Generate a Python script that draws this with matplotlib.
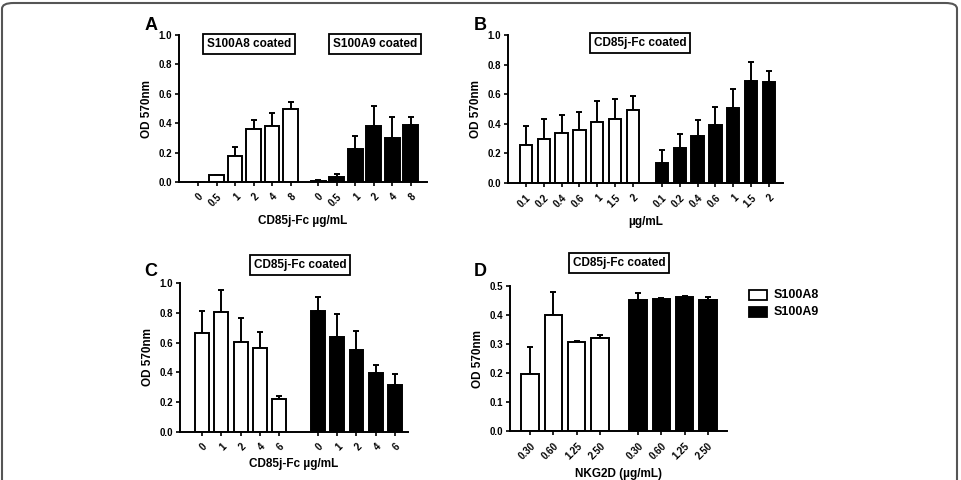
import numpy as np
import matplotlib.pyplot as plt
from matplotlib.patches import FancyBboxPatch, Rectangle

plt.rcParams['font.family'] = ['Liberation Sans', 'DejaVu Sans']
plt.rcParams['font.weight'] = 'bold'

# Painel A - placas revestidas com S100A8 / S100A9
a_labels = ['0', '0.5', '1', '2', '4', '8']
a_s100a8 = [0.0, 0.045, 0.18, 0.36, 0.38, 0.495]
a_s100a8_err = [0.0, 0.005, 0.055, 0.06, 0.09, 0.05]
a_s100a9 = [0.01, 0.032, 0.224, 0.38, 0.30, 0.39]
a_s100a9_err = [0.004, 0.022, 0.086, 0.14, 0.14, 0.05]

# Painel B - CD85j-Fc coated
b_labels = ['0.1', '0.2', '0.4', '0.6', '1', '1.5', '2']
b_s100a8 = [0.257, 0.30, 0.335, 0.36, 0.41, 0.43, 0.49]
b_s100a8_err = [0.13, 0.13, 0.125, 0.12, 0.146, 0.14, 0.10]
b_s100a9 = [0.137, 0.235, 0.32, 0.39, 0.51, 0.69, 0.685]
b_s100a9_err = [0.083, 0.095, 0.105, 0.125, 0.125, 0.125, 0.072]

# Painel C
c_labels = ['0', '1', '2', '4', '6']
c_s100a8 = [0.664, 0.805, 0.604, 0.566, 0.224]
c_s100a8_err = [0.148, 0.145, 0.163, 0.105, 0.02]
c_s100a9 = [0.812, 0.638, 0.553, 0.396, 0.313]
c_s100a9_err = [0.094, 0.156, 0.123, 0.056, 0.077]

# Painel D - NKG2D
d_labels = ['0.30', '0.60', '1.25', '2.50']
d_s100a8 = [0.197, 0.40, 0.307, 0.322]
d_s100a8_err = [0.093, 0.078, 0.004, 0.008]
d_s100a9 = [0.451, 0.455, 0.462, 0.453]
d_s100a9_err = [0.026, 0.005, 0.002, 0.009]

W, H = 961, 480
fig = plt.figure(figsize=(W / 100, H / 100), dpi=100)


def px_axes(x0, x1, y0, y1):
    # x0..x1, y0 (topo) .. y1 (base) em pixels
    return fig.add_axes([x0 / W, 1 - y1 / H, (x1 - x0) / W, (y1 - y0) / H])


def painel(ax, labels, s8, s8e, s9, s9e, gap, width, xlim, ylim, yticks,
           yticklabels, xlabel, xpad):
    n = len(labels)
    x1 = np.arange(n)
    x2 = np.arange(n) + n + gap
    for x, v, e, cor in [(x1, s8, s8e, 'white'), (x2, s9, s9e, 'black')]:
        ax.bar(x, v, width=width, color=cor, edgecolor='black', linewidth=1.4, zorder=2)
        ax.errorbar(x, v, yerr=[np.zeros(n), e], fmt='none', ecolor='black',
                    elinewidth=1.4, capsize=2.5, capthick=1.4, zorder=1)
    ax.set_xlim(*xlim)
    ax.set_ylim(*ylim)
    ax.set_xticks(list(x1) + list(x2))
    ax.set_xticklabels(labels + labels, rotation=45, ha='right',
                       rotation_mode='anchor', fontsize=7)
    ax.set_yticks(yticks)
    ax.set_yticklabels(yticklabels, fontsize=7)
    ax.spines['top'].set_visible(False)
    ax.spines['right'].set_visible(False)
    ax.spines['left'].set_linewidth(1.4)
    ax.spines['bottom'].set_linewidth(1.4)
    ax.tick_params(axis='both', direction='out', width=1.2, length=3, pad=2)
    ax.tick_params(axis='x', pad=4)
    ax.set_ylabel('OD 570nm', fontsize=8.5, fontweight='bold', labelpad=4)
    ax.set_xlabel(xlabel, fontsize=8.5, fontweight='bold', labelpad=xpad)


def caixa(x, y, texto):
    fig.text(x / W, 1 - y / H, texto, fontsize=8.5, fontweight='bold',
             ha='center', va='center',
             bbox=dict(boxstyle='square,pad=0.3', fc='white', ec='black', lw=1.3))


yt = [0.0, 0.2, 0.4, 0.6, 0.8, 1.0]

axA = px_axes(179, 427, 35, 182)
painel(axA, a_labels, a_s100a8, a_s100a8_err, a_s100a9, a_s100a9_err,
       0.5, 0.8, (-1.03, 12.38), (0, 1.0), yt, ['0.0', '0.2', '0.4', '0.6', '0.8', '1.0'],
       'CD85j-Fc µg/mL', 5)

axB = px_axes(508, 783, 35, 183)
painel(axB, b_labels, b_s100a8, b_s100a8_err, b_s100a9, b_s100a9_err,
       0.64, 0.7, (-1.01, 14.44), (0, 1.0), yt, ['0.0', '0.2', '0.4', '0.6', '0.8', '1.0'],
       'µg/mL', 5)

axC = px_axes(180, 408, 283, 432)
painel(axC, c_labels, c_s100a8, c_s100a8_err, c_s100a9, c_s100a9_err,
       1.0, 0.72, (-1.14, 10.67), (0, 1.0), yt, ['0.0', '0.2', '0.4', '0.6', '0.8', '1.0'],
       'CD85j-Fc µg/mL', 4)

axD = px_axes(510, 727, 286, 431)
painel(axD, d_labels, d_s100a8, d_s100a8_err, d_s100a9, d_s100a9_err,
       0.63, 0.75, (-0.86, 8.45), (0, 0.5), [0.0, 0.1, 0.2, 0.3, 0.4, 0.5],
       ['0.0', '0.1', '0.2', '0.3', '0.4', '0.5'], 'NKG2D (µg/mL)', 5)

# letras dos paineis
for letra, x, y in [('A', 151, 26), ('B', 480, 26), ('C', 151, 271), ('D', 480, 271)]:
    fig.text(x / W, 1 - y / H, letra, fontsize=13, fontweight='bold', ha='center', va='center')

caixa(249, 44, 'S100A8 coated')
caixa(375, 44, 'S100A9 coated')
caixa(640, 43, 'CD85j-Fc coated')
caixa(300, 265, 'CD85j-Fc coated')
caixa(619, 263, 'CD85j-Fc coated')

# legenda
for y, cor, nome in [(295, 'white', 'S100A8'), (312, 'black', 'S100A9')]:
    fig.patches.append(Rectangle((749 / W, 1 - (y + 5) / H), 18 / W, 10 / H,
                                 transform=fig.transFigure, fc=cor, ec='black', lw=1.3))
    fig.text(774 / W, 1 - y / H, nome, fontsize=9, fontweight='bold', ha='left', va='center')

# moldura arredondada
fig.patches.append(FancyBboxPatch((2 / W, -0.05), 955 / W, 1.05 - 3 / H,
                                  boxstyle='round,pad=0,rounding_size=0.012',
                                  transform=fig.transFigure, fc='none', ec='#555555', lw=1.5))

fig.savefig('out.png', dpi=100)
